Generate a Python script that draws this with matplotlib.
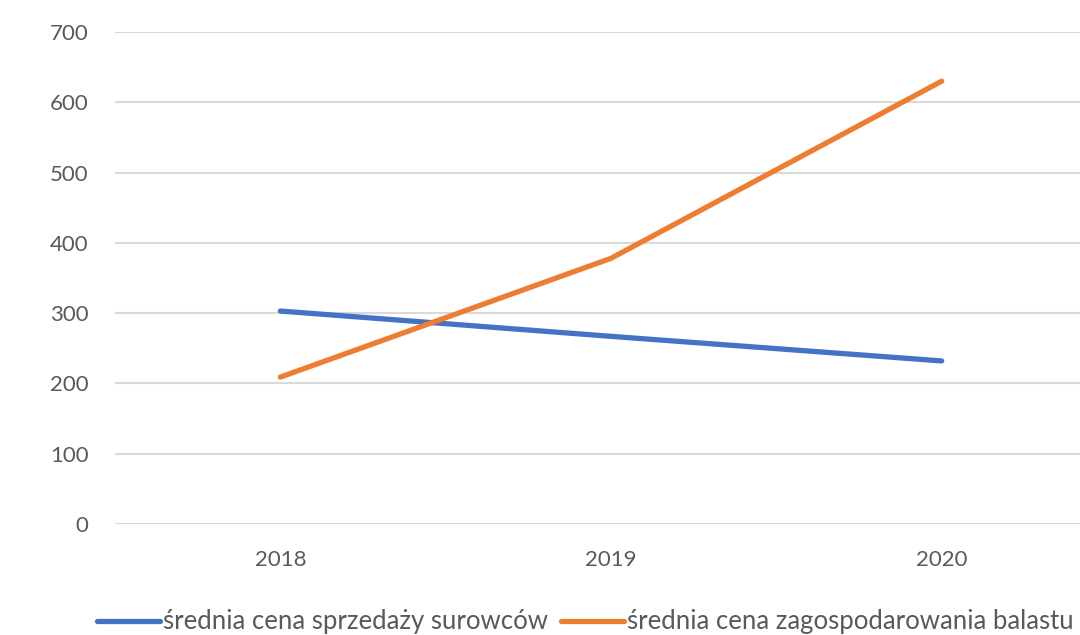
import matplotlib
matplotlib.use("Agg")
import matplotlib.pyplot as plt

plt.rcParams['font.family'] = ['Lato', 'DejaVu Sans']

years = ['2018', '2019', '2020']
sprzedaz = [303, 267, 232]
balast = [209, 378, 630]
y_ticks = [0, 100, 200, 300, 400, 500, 600, 700]

label_sprzedaz = 'średnia cena sprzedaży surowców'
label_balast = 'średnia cena zagospodarowania balastu'

blue = '#4472C4'
orange = '#ED7D31'
grid_color = '#D9D9D9'
text_color = '#595959'

fig = plt.figure(figsize=(10.8, 6.35), dpi=100)
ax = fig.add_axes([115 / 1080, 1 - 524 / 635, 992 / 1080, 492 / 635])

x = range(len(years))
ax.plot(x, sprzedaz, color=blue, lw=3.8, solid_capstyle='round', label=label_sprzedaz)
ax.plot(x, balast, color=orange, lw=3.8, solid_capstyle='round', label=label_balast)

ax.set_xlim(-0.5, len(years) - 0.5)
ax.set_ylim(0, 700)
ax.set_xticks(list(x))
ax.set_xticklabels(years)
ax.set_yticks(y_ticks)

ax.grid(axis='y', color=grid_color, lw=1.5)
ax.set_axisbelow(True)
for side in ['top', 'right', 'left', 'bottom']:
    ax.spines[side].set_visible(False)
ax.tick_params(axis='both', length=0, labelsize=16, colors=text_color)
ax.tick_params(axis='y', pad=19)
ax.tick_params(axis='x', pad=19)

fig.legend(loc='center left', bbox_to_anchor=(97 / 1080, 1 - 622 / 635),
           ncol=2, frameon=False, fontsize=18.5, labelcolor=text_color,
           handlelength=2.45, handletextpad=0.12, columnspacing=0.5,
           borderpad=0, borderaxespad=0)

fig.savefig('out.png', dpi=100)
